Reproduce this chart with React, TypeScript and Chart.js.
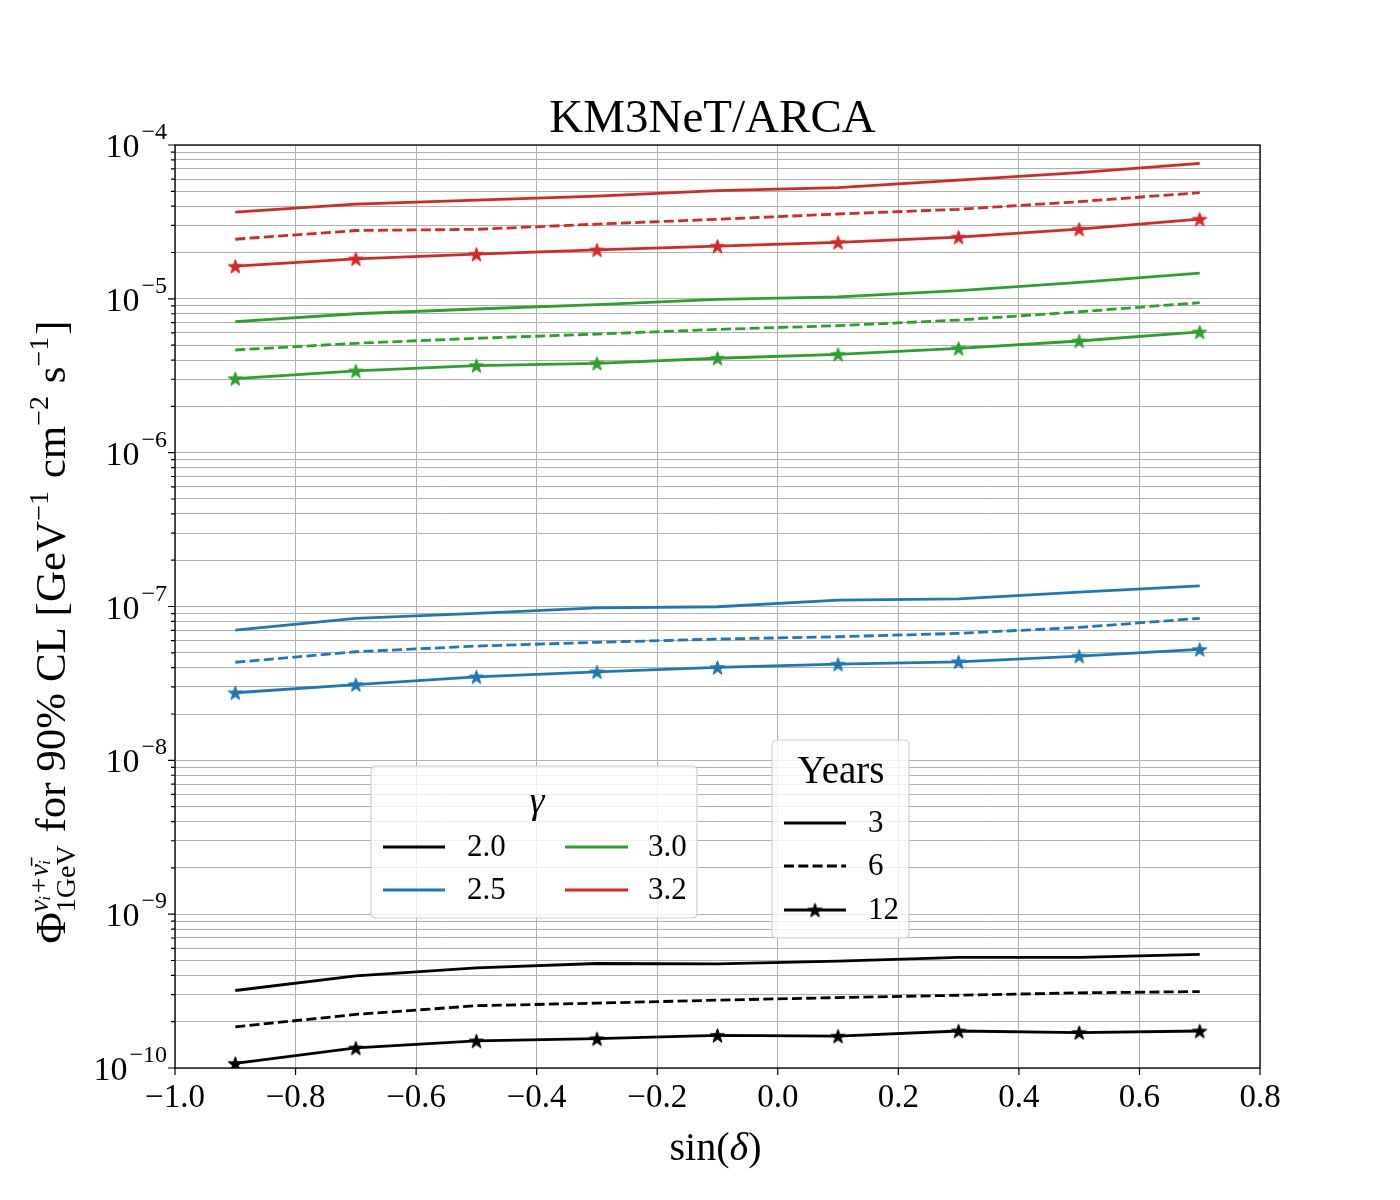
import React, { useEffect, useRef } from "react";
import { Chart, registerables } from "chart.js";
Chart.register(...registerables);

// ---------------- data ----------------
const sinDec = [-0.9, -0.7, -0.5, -0.3, -0.1, 0.1, 0.3, 0.5, 0.7];

const gamma20_y3 = [3.19e-10, 3.97e-10, 4.48e-10, 4.78e-10, 4.75e-10, 4.95e-10, 5.23e-10, 5.23e-10, 5.47e-10];
const gamma20_y6 = [1.85e-10, 2.23e-10, 2.54e-10, 2.64e-10, 2.76e-10, 2.87e-10, 2.97e-10, 3.08e-10, 3.14e-10];
const gamma20_y12 = [1.07e-10, 1.35e-10, 1.5e-10, 1.55e-10, 1.63e-10, 1.61e-10, 1.74e-10, 1.7e-10, 1.74e-10];

const gamma25_y3 = [7.03e-8, 8.38e-8, 9.02e-8, 9.81e-8, 9.96e-8, 1.1e-7, 1.12e-7, 1.24e-7, 1.36e-7];
const gamma25_y6 = [4.34e-8, 5.08e-8, 5.53e-8, 5.85e-8, 6.14e-8, 6.36e-8, 6.69e-8, 7.31e-8, 8.38e-8];
const gamma25_y12 = [2.75e-8, 3.11e-8, 3.49e-8, 3.76e-8, 4.02e-8, 4.22e-8, 4.37e-8, 4.76e-8, 5.26e-8];

const gamma30_y3 = [7.1e-6, 8.0e-6, 8.59e-6, 9.16e-6, 9.93e-6, 1.03e-5, 1.13e-5, 1.28e-5, 1.47e-5];
const gamma30_y6 = [4.65e-6, 5.14e-6, 5.54e-6, 5.9e-6, 6.33e-6, 6.69e-6, 7.28e-6, 8.24e-6, 9.44e-6];
const gamma30_y12 = [3.03e-6, 3.4e-6, 3.68e-6, 3.81e-6, 4.11e-6, 4.36e-6, 4.77e-6, 5.32e-6, 6.09e-6];

const gamma32_y3 = [3.66e-5, 4.13e-5, 4.38e-5, 4.65e-5, 5.05e-5, 5.28e-5, 5.91e-5, 6.61e-5, 7.6e-5];
const gamma32_y6 = [2.44e-5, 2.78e-5, 2.83e-5, 3.06e-5, 3.29e-5, 3.56e-5, 3.82e-5, 4.28e-5, 4.9e-5];
const gamma32_y12 = [1.63e-5, 1.82e-5, 1.95e-5, 2.08e-5, 2.2e-5, 2.33e-5, 2.52e-5, 2.84e-5, 3.3e-5];

const gammaLabels = ["2.0", "2.5", "3.0", "3.2"];
const gammaColors = ["#000000", "#1f77b4", "#2ca02c", "#d62728"];
const yearLabels = ["3", "6", "12"];
const xTickValues = [-1.0, -0.8, -0.6, -0.4, -0.2, 0.0, 0.2, 0.4, 0.6, 0.8];
const yDecades = [-10, -9, -8, -7, -6, -5, -4];

const seriesByGamma = [
  [gamma20_y3, gamma20_y6, gamma20_y12],
  [gamma25_y3, gamma25_y6, gamma25_y12],
  [gamma30_y3, gamma30_y6, gamma30_y12],
  [gamma32_y3, gamma32_y6, gamma32_y12],
];

const FONT = "'Liberation Serif', 'DejaVu Serif', serif";
const DASH = [10, 4.3];
const LW = 2.8;

function makeStar(color: string, r: number): HTMLCanvasElement {
  const c = document.createElement("canvas");
  const s = Math.ceil(2 * r + 4);
  c.width = s;
  c.height = s;
  const ctx = c.getContext("2d")!;
  const cx = s / 2;
  const cy = s / 2 + r * 0.1;
  const inner = r * 0.4;
  ctx.beginPath();
  for (let i = 0; i < 10; i++) {
    const rad = i % 2 === 0 ? r : inner;
    const a = -Math.PI / 2 + (i * Math.PI) / 5;
    const px = cx + rad * Math.cos(a);
    const py = cy + rad * Math.sin(a);
    if (i === 0) ctx.moveTo(px, py);
    else ctx.lineTo(px, py);
  }
  ctx.closePath();
  ctx.fillStyle = color;
  ctx.fill();
  ctx.strokeStyle = color;
  ctx.lineWidth = 1;
  ctx.stroke();
  return c;
}

function drawStarAt(ctx: CanvasRenderingContext2D, img: HTMLCanvasElement, x: number, y: number) {
  ctx.drawImage(img, x - img.width / 2, y - img.height / 2);
}

function roundRect(ctx: CanvasRenderingContext2D, x: number, y: number, w: number, h: number, r: number) {
  ctx.beginPath();
  ctx.moveTo(x + r, y);
  ctx.lineTo(x + w - r, y);
  ctx.quadraticCurveTo(x + w, y, x + w, y + r);
  ctx.lineTo(x + w, y + h - r);
  ctx.quadraticCurveTo(x + w, y + h, x + w - r, y + h);
  ctx.lineTo(x + r, y + h);
  ctx.quadraticCurveTo(x, y + h, x, y + h - r);
  ctx.lineTo(x, y + r);
  ctx.quadraticCurveTo(x, y, x + r, y);
  ctx.closePath();
}

function legendLine(ctx: CanvasRenderingContext2D, x0: number, x1: number, y: number, color: string, dash: number[]) {
  ctx.save();
  ctx.strokeStyle = color;
  ctx.lineWidth = LW;
  ctx.setLineDash(dash);
  ctx.beginPath();
  ctx.moveTo(x0, y);
  ctx.lineTo(x1, y);
  ctx.stroke();
  ctx.restore();
}

export default function App() {
  const ref = useRef<HTMLCanvasElement | null>(null);

  useEffect(() => {
    if (!ref.current) return;
    const stars = gammaColors.map((c) => makeStar(c, 7.5));
    const legendStar = makeStar("#000000", 7.5);

    const datasets: any[] = [];
    seriesByGamma.forEach((group, gi) => {
      group.forEach((vals, yi) => {
        datasets.push({
          label: `gamma ${gammaLabels[gi]} / ${yearLabels[yi]} yr`,
          data: sinDec.map((x, i) => ({ x, y: vals[i] })),
          borderColor: gammaColors[gi],
          backgroundColor: gammaColors[gi],
          borderWidth: LW,
          borderDash: yi === 1 ? DASH : [],
          pointRadius: yi === 2 ? 8 : 0,
          pointStyle: yi === 2 ? stars[gi] : "circle",
          tension: 0,
          fill: false,
        });
      });
    });

    const decor = {
      id: "decor",
      afterDraw(chart: any) {
        const ctx: CanvasRenderingContext2D = chart.ctx;
        const a = chart.chartArea;
        const xs = chart.scales.x;
        const ys = chart.scales.y;
        ctx.save();

        // spines
        ctx.strokeStyle = "#000";
        ctx.lineWidth = 1.3;
        ctx.setLineDash([]);
        ctx.strokeRect(a.left, a.top, a.right - a.left, a.bottom - a.top);

        // y ticks (major + minor) outward
        ctx.lineWidth = 1.2;
        ctx.beginPath();
        for (const e of yDecades) {
          for (let k = 1; k <= 9; k++) {
            const v = k * Math.pow(10, e);
            if (v > 1.0001e-4) break;
            const py = ys.getPixelForValue(v);
            const len = k === 1 ? 7 : 4;
            ctx.moveTo(a.left, py);
            ctx.lineTo(a.left - len, py);
          }
        }
        // x ticks outward
        for (const v of xTickValues) {
          const px = xs.getPixelForValue(v);
          ctx.moveTo(px, a.bottom);
          ctx.lineTo(px, a.bottom + 7);
        }
        ctx.stroke();

        // y tick labels 10^e
        ctx.fillStyle = "#000";
        ctx.textBaseline = "alphabetic";
        for (const e of yDecades) {
          const py = ys.getPixelForValue(Math.pow(10, e));
          const rightEdge = a.left - 8;
          ctx.font = `24px ${FONT}`;
          ctx.textAlign = "right";
          const expStr = "\u2212" + String(-e);
          const ew = ctx.measureText(expStr).width;
          ctx.fillText(expStr, rightEdge, py - 6);
          ctx.font = `34px ${FONT}`;
          ctx.fillText("10", rightEdge - ew - 2, py + 12);
        }

        // title
        ctx.textAlign = "center";
        ctx.font = `47px ${FONT}`;
        ctx.fillText("KM3NeT/ARCA", (a.left + a.right) / 2 - 5, 132);

        // x axis title
        ctx.font = `40px ${FONT}`;
        const xt1 = "sin(";
        const xt2 = "\u03b4";
        const xt3 = ")";
        ctx.textAlign = "left";
        const w1 = ctx.measureText(xt1).width;
        ctx.font = `italic 40px ${FONT}`;
        const w2 = ctx.measureText(xt2).width;
        ctx.font = `40px ${FONT}`;
        const w3 = ctx.measureText(xt3).width;
        let sx = (a.left + a.right) / 2 - 2 - (w1 + w2 + w3) / 2;
        const by = 1160;
        ctx.fillText(xt1, sx, by);
        sx += w1;
        ctx.font = `italic 40px ${FONT}`;
        ctx.fillText(xt2, sx, by);
        sx += w2;
        ctx.font = `40px ${FONT}`;
        ctx.fillText(xt3, sx, by);

        // y axis title (rotated, rich text)
        ctx.save();
        ctx.translate(65, 632);
        ctx.rotate(-Math.PI / 2);
        type Part = { t: string; size: number; dy: number; italic?: boolean; sub?: string };
        const BIG = 43;
        const SM = 28;
        const parts: Part[] = [
          { t: "\u03a6", size: BIG, dy: 0 },
          { t: "\u03bd\u1d62+\u03bd\u0304\u1d62", size: SM, dy: -17, italic: true, sub: "1GeV" },
          { t: " for 90% CL [GeV", size: BIG, dy: 0 },
          { t: "\u22121", size: SM, dy: -17 },
          { t: " cm", size: BIG, dy: 0 },
          { t: "\u22122", size: SM, dy: -17 },
          { t: " s", size: BIG, dy: 0 },
          { t: "\u22121", size: SM, dy: -17 },
          { t: "]", size: BIG, dy: 0 },
        ];
        const fontOf = (p: Part, italic?: boolean) => `${italic ? "italic " : ""}${p.size}px ${FONT}`;
        let total = 0;
        const widths: number[] = [];
        for (const p of parts) {
          ctx.font = fontOf(p, p.italic);
          let w = ctx.measureText(p.t).width;
          if (p.sub) {
            ctx.font = fontOf(p, false);
            w = Math.max(w, ctx.measureText(p.sub).width);
          }
          widths.push(w);
          total += w + (p.dy !== 0 ? 2 : 0);
        }
        let cx = -total / 2;
        ctx.textAlign = "left";
        parts.forEach((p, i) => {
          ctx.font = fontOf(p, p.italic);
          ctx.fillText(p.t, cx, p.dy);
          if (p.sub) {
            ctx.font = fontOf(p, false);
            ctx.fillText(p.sub, cx, 10);
          }
          cx += widths[i] + (p.dy !== 0 ? 2 : 0);
        });
        ctx.restore();

        // legend 1 (gamma)
        ctx.save();
        roundRect(ctx, 371, 766, 326, 152, 5);
        ctx.fillStyle = "rgba(255,255,255,0.8)";
        ctx.fill();
        ctx.strokeStyle = "#d0d0d0";
        ctx.lineWidth = 1.2;
        ctx.stroke();
        ctx.fillStyle = "#000";
        ctx.textAlign = "center";
        ctx.textBaseline = "middle";
        ctx.font = `italic 38px ${FONT}`;
        ctx.fillText("\u03b3", 537, 803);
        const cols = [
          { lx0: 383, lx1: 445, tx: 467 },
          { lx0: 565, lx1: 628, tx: 648 },
        ];
        const rows = [847, 890];
        gammaLabels.forEach((lab, i) => {
          const col = cols[Math.floor(i / 2)];
          const ry = rows[i % 2];
          legendLine(ctx, col.lx0, col.lx1, ry, gammaColors[i], []);
          ctx.fillStyle = "#000";
          ctx.textAlign = "left";
          ctx.textBaseline = "middle";
          ctx.font = `31px ${FONT}`;
          ctx.fillText(lab, col.tx, ry + 1);
        });

        // legend 2 (years)
        roundRect(ctx, 772, 740, 137, 198, 5);
        ctx.fillStyle = "rgba(255,255,255,0.8)";
        ctx.fill();
        ctx.strokeStyle = "#d0d0d0";
        ctx.lineWidth = 1.2;
        ctx.stroke();
        ctx.fillStyle = "#000";
        ctx.textAlign = "center";
        ctx.textBaseline = "middle";
        ctx.font = `39px ${FONT}`;
        ctx.fillText("Years", 841, 773);
        const yrows = [823, 866, 910];
        yearLabels.forEach((lab, i) => {
          const ry = yrows[i];
          legendLine(ctx, 784, 846, ry, "#000", i === 1 ? DASH : []);
          if (i === 2) drawStarAt(ctx, legendStar, 815, ry);
          ctx.fillStyle = "#000";
          ctx.textAlign = "left";
          ctx.textBaseline = "middle";
          ctx.font = `31px ${FONT}`;
          ctx.fillText(lab, 868, ry + 1);
        });
        ctx.restore();

        ctx.restore();
      },
    };

    const chart = new Chart(ref.current, {
      type: "line",
      data: { datasets },
      options: {
        animation: false,
        responsive: false,
        maintainAspectRatio: false,
        devicePixelRatio: 1,
        layout: { padding: { left: 0, right: 140, top: 145, bottom: 0 } },
        plugins: {
          legend: { display: false },
          title: { display: false },
          tooltip: { enabled: false },
        },
        scales: {
          x: {
            type: "linear",
            min: -1.0,
            max: 0.8,
            afterBuildTicks: (s: any) => {
              s.ticks = xTickValues.map((v) => ({ value: v }));
            },
            afterFit: (s: any) => {
              s.height = 132;
            },
            ticks: {
              autoSkip: false,
              maxRotation: 0,
              minRotation: 0,
              padding: 11,
              color: "#000",
              font: { family: FONT, size: 33 },
              callback: (v: any) => {
                const n = Number(v);
                const s = Math.abs(n).toFixed(1);
                return n < -1e-9 ? "\u2212" + s : s;
              },
            },
            grid: { color: "#b0b0b0", lineWidth: 1, drawTicks: false },
            border: { display: false },
          },
          y: {
            type: "logarithmic",
            min: 1e-10,
            max: 1e-4,
            afterBuildTicks: (s: any) => {
              const t: any[] = [];
              for (const e of yDecades) {
                for (let k = 1; k <= 9; k++) {
                  const v = k * Math.pow(10, e);
                  if (v > 1.0001e-4) break;
                  t.push({ value: v, major: k === 1 });
                }
              }
              s.ticks = t;
            },
            afterFit: (s: any) => {
              s.width = 175;
            },
            ticks: { display: false, autoSkip: false },
            grid: { color: "#b0b0b0", lineWidth: 1, drawTicks: false },
            border: { display: false },
          },
        },
      },
      plugins: [decor],
    } as any);

    return () => chart.destroy();
  }, []);

  return (
    <div style={{ position: "absolute", left: 0, top: 0, width: 1400, height: 1200, background: "#fff" }}>
      <canvas ref={ref} width={1400} height={1200} style={{ width: 1400, height: 1200, display: "block" }} />
    </div>
  );
}
